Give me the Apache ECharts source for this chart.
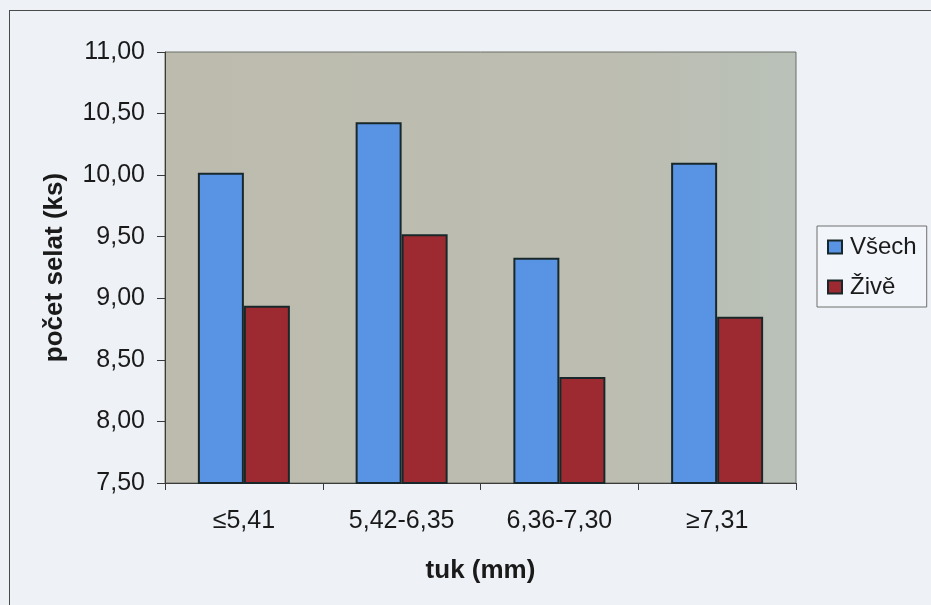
<!DOCTYPE html>
<html>
<head>
<meta charset="utf-8">
<script src="https://cdn.jsdelivr.net/npm/echarts@6/dist/echarts.min.js"></script>
<style>
  html, body { margin: 0; padding: 0; background: #eef2f7; overflow: hidden; }
  #frame { position: absolute; left: 9px; top: 10px; width: 1000px; height: 1000px; border: 1px solid #4a4a4a; }
  #chart { position: absolute; left: 0; top: 0; width: 931px; height: 605px; }
</style>
</head>
<body>
<div id="frame"></div>
<div id="chart"></div>
<script>
// Fat thickness classes (mm)
const categories = ['≤5,41', '5,42-6,35', '6,36-7,30', '≥7,31'];
// Piglets per litter: all born / born alive
const vsech = [10.02, 10.43, 9.33, 10.10];
const zive = [8.94, 9.52, 8.36, 8.85];
const seriesNames = ['Všech', 'Živě'];
const yTicks = { min: 7.5, max: 11, interval: 0.5 };

const textColor = '#1a1a1a';
const fontFamily = 'Liberation Sans, Arial, sans-serif';

const chart = echarts.init(document.getElementById('chart'), null, { renderer: 'canvas' });

chart.setOption({
  backgroundColor: 'transparent',
  animation: false,
  textStyle: { fontFamily: fontFamily, color: textColor },
  grid: {
    left: 165, top: 52, right: 135, bottom: 122,
    show: true,
    backgroundColor: {
      type: 'linear', x: 0, y: 0, x2: 1, y2: 0,
      colorStops: [
        { offset: 0, color: '#bcbbae' },
        { offset: 0.7, color: '#bdbdb1' },
        { offset: 1, color: '#b9c1b8' }
      ]
    },
    borderColor: '#6a6e66',
    borderWidth: 1
  },
  legend: {
    data: seriesNames,
    orient: 'vertical',
    left: 817, top: 226,
    padding: [9, 10, 8, 10],
    itemGap: 16,
    itemWidth: 14, itemHeight: 13,
    icon: 'rect',
    backgroundColor: '#f2f5f9',
    borderColor: '#6f6f6f',
    borderWidth: 1,
    textStyle: { fontSize: 24, color: textColor, fontFamily: fontFamily, lineHeight: 24, padding: [0, 0, 0, 3] }
  },
  xAxis: {
    type: 'category',
    data: categories,
    name: 'tuk (mm)',
    nameLocation: 'middle',
    nameGap: 75,
    nameTextStyle: { fontSize: 26, fontWeight: 'bold', color: textColor },
    axisLine: { lineStyle: { color: '#3a3a3a', width: 1 } },
    axisTick: { show: true, alignWithLabel: false, length: 7, lineStyle: { color: '#3a3a3a' } },
    axisLabel: { fontSize: 25, color: textColor, margin: 26 },
    splitLine: { show: false }
  },
  yAxis: {
    type: 'value',
    min: yTicks.min, max: yTicks.max, interval: yTicks.interval,
    name: 'počet selat (ks)',
    nameLocation: 'middle',
    nameGap: 97,
    nameTextStyle: { fontSize: 26, fontWeight: 'bold', color: textColor },
    axisLine: { show: true, lineStyle: { color: '#3a3a3a', width: 1 } },
    axisTick: { show: true, length: 8, lineStyle: { color: '#3a3a3a' } },
    axisLabel: {
      fontSize: 25, color: textColor, margin: 20,
      formatter: v => v.toFixed(2).replace('.', ',')
    },
    splitLine: { show: false }
  },
  series: [
    {
      name: seriesNames[0], type: 'bar', data: vsech,
      barWidth: 46, barGap: '0%',
      itemStyle: { color: '#5894e3', borderColor: '#18282a', borderWidth: 2 }
    },
    {
      name: seriesNames[1], type: 'bar', data: zive,
      barWidth: 46, barGap: '0%',
      itemStyle: { color: '#9e2a31', borderColor: '#18282a', borderWidth: 2 }
    }
  ]
});
</script>
</body>
</html>
